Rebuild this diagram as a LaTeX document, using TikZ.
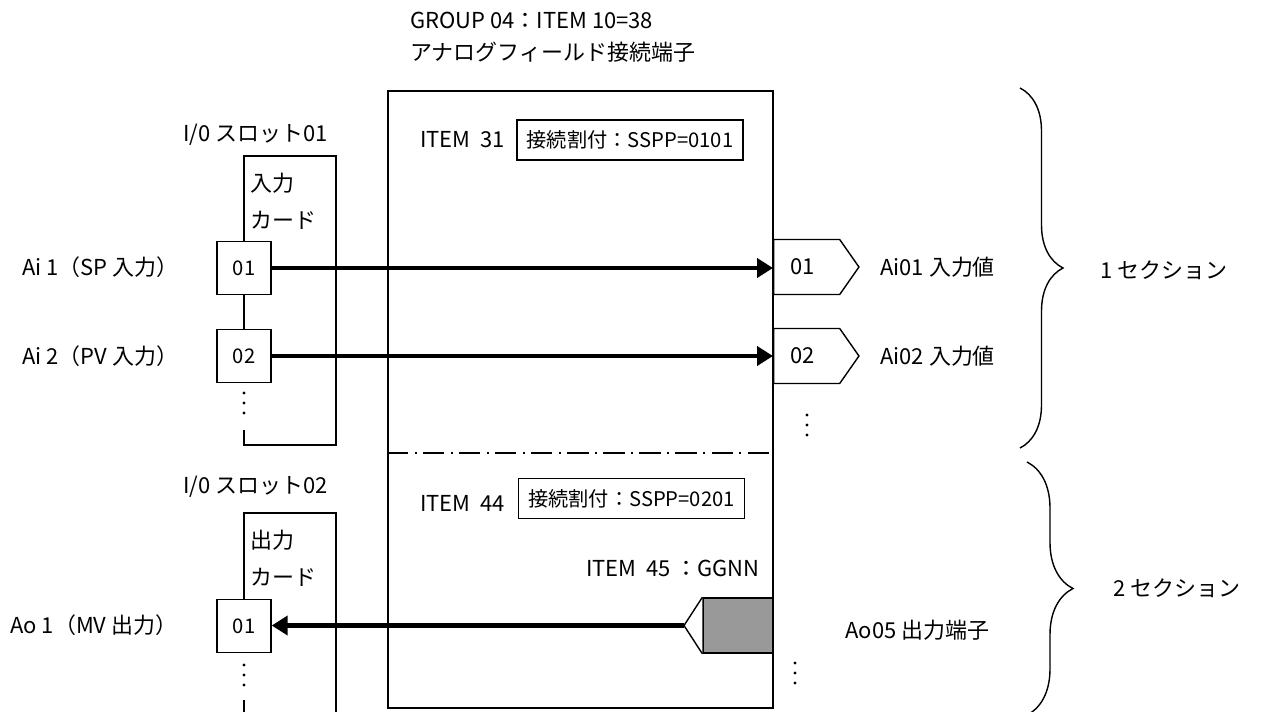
\documentclass[tikz,border=0pt]{standalone}
\usepackage{fontspec}
\setmainfont{Noto Sans CJK JP}
\usetikzlibrary{arrows.meta,calc,decorations.pathreplacing,shapes.symbols}
\definecolor{Ink}{HTML}{000000}
\definecolor{Slab}{HTML}{999999}
\tikzset{
  txt/.style={anchor=west, inner sep=0pt, font=\fontsize{12.5}{15}\selectfont},
  port/.style={
    draw=Ink, line width=0.8pt, fill=white, minimum width=1.08cm,
    minimum height=1.06cm, inner sep=0pt, font=\fontsize{11.5}{14}\selectfont
  },
  tag/.style={
    signal, signal to=east, signal pointer angle=110, draw=Ink, line width=0.8pt,
    minimum height=1.1cm, text width=0.64cm, inner xsep=0.34cm, inner ysep=0pt,
    align=left, anchor=west, font=\fontsize{12.5}{15}\selectfont
  },
  assign/.style={
    draw=Ink, line width=0.8pt, minimum width=4.52cm, minimum height=0.8cm,
    inner sep=0pt, font=\fontsize{11.5}{14}\selectfont
  },
  boxline/.style={draw=Ink, line width=0.8pt},
  bus/.style={line width=2.8pt, draw=Ink},
  busarrow/.style={bus, -{Triangle[length=0.32cm, width=0.38cm]}},
  brk/.style={decorate, decoration={brace, amplitude=0.86cm}, line width=0.8pt},
  divider/.style={line width=0.8pt, dash pattern=on 12pt off 3.5pt on 1.5pt off 3.5pt}
}

\begin{document}
\begin{tikzpicture}[x=0.02cm, y=-0.02cm]
  \useasboundingbox (0,0) rectangle (1280,711);

  % terminal block
  \node[boxline, minimum width=7.7cm, minimum height=12.34cm, inner sep=0pt] (term) at (580.5,399.5) {};
  \node[txt] (grp) at (410,20) {GROUP 04：ITEM 10=38};
  \node[txt] (fld) at (410,52) {アナログフィールド接続端子};
  \draw[divider] (term.west |- 0,453) -- (term.east |- 0,453);

  \node[txt] (it31) at (420,140) {ITEM\ \ 31};
  \node[assign] (as31) at (630,140) {接続割付：SSPP=0101};
  \node[txt] (it44) at (420,503) {ITEM\ \ 44};
  \node[assign] (as44) at (631.5,498.5) {接続割付：SSPP=0201};
  \node[txt, anchor=east] (it45) at (760,568) {ITEM\ \ 45\ ：GGNN};

  % slot 01
  \node[txt] (slot1) at (183,135) {I/0 スロット01};
  \node[txt] (incard) at (250,183) {入力};
  \node[txt] (incard2) at (250,220) {カード};
  \node[port] (in01) at (244,268) {01};
  \node[port] (in02) at (244,356) {02};
  \draw[boxline] (in01.north) -- (244,156) -- (336,156) -- (336,445) -- (244,445) -- (244,430);
  \draw[boxline] (in01.south) -- (in02.north);
  \foreach \y in {393,403,413} \fill (244,\y) circle (0.9pt);

  \node[txt] (ai1) at (22,267) {Ai 1（SP 入力）};
  \node[txt] (ai2) at (22,356) {Ai 2（PV 入力）};

  \node[tag] (t01) at (773,267) {01};
  \node[tag] (t02) at (773,356) {02};
  \node[txt] (v01) at (880,267) {Ai01 入力値};
  \node[txt] (v02) at (880,356) {Ai02 入力値};
  \foreach \y in {415,425,435} \fill (807,\y) circle (0.9pt);

  \draw[busarrow] (in01.east) -- (in01.east -| t01.west);
  \draw[busarrow] (in02.east) -- (in02.east -| t02.west);

  % slot 02
  \node[txt] (slot2) at (183,487) {I/0 スロット02};
  \node[txt] (outcard) at (250,540) {出力};
  \node[txt] (outcard2) at (250,577) {カード};
  \node[port] (out01) at (244,626) {01};
  \draw[boxline] (out01.north) -- (244,513) -- (336,513) -- (336,716);
  \draw[boxline] (244,700) -- (244,716);
  \foreach \y in {665,675,685} \fill (244,\y) circle (0.9pt);
  \node[txt] (ao1) at (10,625) {Ao 1（MV 出力）};

  \node[boxline, fill=Slab, minimum width=1.4cm, minimum height=1.1cm, inner sep=0pt] (ao5) at (738,625.5) {};
  \coordinate (tip) at (684,625.5);
  \draw[boxline, fill=white] (ao5.north west) -- (tip) -- (ao5.south west);
  \draw[busarrow] (tip) -- (tip -| out01.east);
  \node[txt] (ao5txt) at (845,630) {Ao05 出力端子};
  \foreach \y in {663,673,683} \fill (795,\y) circle (0.9pt);

  % sections
  \draw[brk] (1020,88) -- (1020,448);
  \node[txt] (sec1) at (1100,270) {1 セクション};
  \draw[brk, decoration={brace, amplitude=0.92cm}] (1027,462) -- (1027,715);
  \node[txt] (sec2) at (1113,588) {2 セクション};
\end{tikzpicture}
\end{document}
